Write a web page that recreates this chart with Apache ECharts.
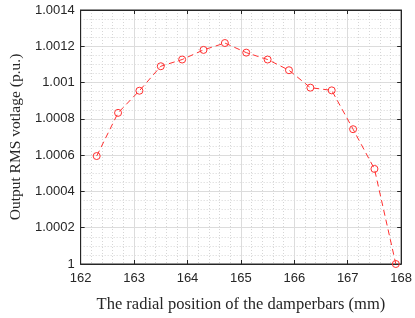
<!DOCTYPE html>
<html>
<head>
<meta charset="utf-8">
<script src="https://cdn.jsdelivr.net/npm/echarts@6/dist/echarts.min.js"></script>
</head>
<body style="margin:0;background:#fff">
<div id="main" style="width:415px;height:318px;"></div>
<script>
// radial position (mm) and output RMS voltage (p.u.)
var positions = [162.3, 162.7, 163.1, 163.5, 163.9, 164.3, 164.7, 165.1, 165.5, 165.9, 166.3, 166.7, 167.1, 167.5, 167.9];
var voltages = [1.000595, 1.000833, 1.000955, 1.00109, 1.001127, 1.00118, 1.001218, 1.001165, 1.001127, 1.001068, 1.000972, 1.000957, 1.000743, 1.000524, 1.0];

var points = positions.map(function (x, i) { return [x, voltages[i]]; });

var axisColor = '#262626';
var tickFont = { color: axisColor, fontFamily: 'Liberation Sans', fontSize: 13 };

var myChart = echarts.init(document.getElementById('main'));
var common = {
  type: 'value',
  axisLine: { show: true, onZero: false, lineStyle: { color: axisColor, width: 1 } },
  axisTick: { show: true, inside: true, length: 4, lineStyle: { color: axisColor } }
};
var option = {
  animation: false,
  grid: { left: 75, right: 11, top: 10, bottom: 46, show: true, borderColor: axisColor, borderWidth: 1 },
  xAxis: [
    Object.assign({}, common, {
      min: 162, max: 168, interval: 1,
      name: 'The radial position of the damperbars (mm)',
      nameLocation: 'middle', nameGap: 32,
      nameTextStyle: { color: axisColor, fontFamily: 'Liberation Serif', fontSize: 16.5 },
      axisLabel: Object.assign({ margin: 8 }, tickFont),
      splitLine: { show: true, lineStyle: { color: '#dcdcdc', width: 1 } },
      minorTick: { show: false, splitNumber: 5 },
      minorSplitLine: { show: true, lineStyle: { color: '#d6d6d6', type: [1, 2], width: 1 } }
    }),
    Object.assign({}, common, {
      position: 'top', min: 162, max: 168, interval: 1,
      axisLabel: { show: false }, splitLine: { show: false }
    })
  ],
  yAxis: [
    Object.assign({}, common, {
      min: 1, max: 1.0014, interval: 0.0002,
      name: 'Output RMS votlage (p.u.)',
      nameLocation: 'middle', nameGap: 51,
      nameTextStyle: { color: axisColor, fontFamily: 'Liberation Serif', fontSize: 15.5 },
      axisLabel: Object.assign({
        margin: 6,
        formatter: function (v) { return String(parseFloat(v.toFixed(4))); }
      }, tickFont),
      splitLine: { show: true, lineStyle: { color: '#dcdcdc', width: 1 } },
      minorTick: { show: false, splitNumber: 4 },
      minorSplitLine: { show: true, lineStyle: { color: '#d6d6d6', type: [1, 2], width: 1 } }
    }),
    Object.assign({}, common, {
      position: 'right', min: 1, max: 1.0014, interval: 0.0002,
      axisLabel: { show: false }, splitLine: { show: false }
    })
  ],
  series: [{
    type: 'line',
    data: points,
    symbol: 'circle',
    symbolSize: 7,
    clip: false,
    lineStyle: { color: '#ff3030', width: 1, type: [6, 4] },
    itemStyle: { color: 'rgba(0,0,0,0)', borderColor: '#ff3030', borderWidth: 1 }
  }]
};
myChart.setOption(option);
</script>
</body>
</html>
